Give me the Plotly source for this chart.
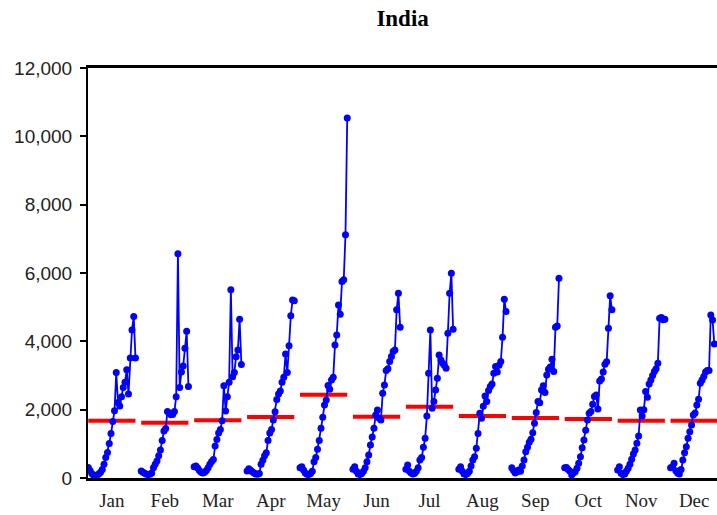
import plotly.graph_objects as go

# Monthly values by year (one list per calendar month, oldest year first)
months = ["Jan", "Feb", "Mar", "Apr", "May", "Jun",
          "Jul", "Aug", "Sep", "Oct", "Nov", "Dec"]

jan = [310, 220, 130, 80, 70, 90, 120, 170, 250, 400, 597, 743, 1007, 1300,
       1653, 1965, 3090, 2210, 2110, 2380, 2650, 2800, 3170, 2456, 3512, 4333,
       4724, 3512]
feb = [205, 170, 140, 108, 100, 110, 150, 303, 400, 499, 650, 821, 1100, 1379,
       1447, 1946, 1900, 1849, 1860, 1950, 2377, 6563, 2650, 3100, 3276, 3795,
       4294, 2680]
mar = [330, 350, 290, 220, 170, 150, 170, 220, 300, 400, 480, 545, 935, 1130,
       1320, 1420, 1672, 2700, 1960, 2380, 2800, 5510, 2960, 3090, 3550, 3750,
       4650, 3320]
apr = [205, 270, 230, 180, 150, 120, 110, 130, 400, 520, 650, 740, 1100, 1320,
       1420, 1700, 1940, 2300, 2455, 2550, 2800, 2950, 3630, 3090, 3870, 4750,
       5210, 5190]
may = [300, 331, 234, 150, 110, 100, 130, 200, 477, 600, 840, 1100, 1455, 1777,
       2138, 2285, 2704, 2600, 2870, 2950, 3896, 4189, 5067, 4795, 5750, 5800,
       7118, 10536]
jun = [254, 332, 200, 115, 100, 130, 200, 300, 478, 674, 967, 1200, 1455, 1845,
       1992, 1750, 1699, 2480, 2724, 3143, 3200, 3407, 3554, 3700, 3750, 4921,
       5409, 4413]
jul = [254, 381, 200, 150, 120, 140, 200, 300, 527, 600, 898, 1162, 1816, 3066,
       4335, 2040, 2236, 2578, 2919, 3603, 3456, 3358, 3300, 3212, 4237, 5409,
       5995, 4354]
aug = [254, 332, 200, 120, 100, 130, 200, 350, 527, 625, 869, 1300, 1894, 1750,
       2100, 2402, 2236, 2558, 2675, 2750, 3066, 3261, 3100, 3300, 3407, 4120,
       5233, 4872]
sep = [300, 220, 150, 185, 234, 200, 350, 527, 771, 900, 1050, 1133, 1328, 1601,
       1914, 2236, 2200, 2578, 2700, 2500, 3017, 3183, 3250, 3476, 3114, 4413,
       4450, 5848]
oct_ = [300, 310, 250, 200, 88, 150, 185, 283, 430, 625, 889, 1113, 1400, 1699,
        1894, 1950, 2158, 2382, 2431, 2021, 2841, 2900, 3100, 3329, 3400, 4384,
        5331, 4921]
nov = [234, 332, 137, 100, 120, 200, 283, 400, 547, 700, 820, 1016, 1230, 1992,
       1816, 2000, 2529, 2363, 2753, 2870, 3000, 3114, 3200, 3358, 4677, 4700,
       4630, 4650]
dec = [300, 332, 430, 215, 150, 120, 250, 527, 742, 918, 1162, 1357, 1552, 1845,
       1900, 2138, 2304, 2773, 2870, 2968, 3100, 3143, 3150, 4774, 4628, 3925]

# Mean of each month across the years
month_means = [1678, 1620, 1690, 1787, 2440, 1796, 2088, 1816, 1757, 1728,
               1678, 1678]

series = [jan, feb, mar, apr, may, jun, jul, aug, sep, oct_, nov, dec]

n_years = 28
group_width = 0.892          # share of each month slot used by its years
step = group_width / (n_years - 1)

fig = go.Figure()

# Red mean bars, one per month
for i, m in enumerate(month_means):
    fig.add_trace(go.Scatter(
        x=[i, i + group_width], y=[m, m], mode="lines",
        line=dict(color="#ff0000", width=4),
        hoverinfo="skip", showlegend=False))

# Blue year-by-year lines with markers, one per month
for i, vals in enumerate(series):
    xs = [i + j * step for j in range(len(vals))]
    fig.add_trace(go.Scatter(
        x=xs, y=vals, mode="lines+markers",
        line=dict(color="#0000ff", width=1.8),
        marker=dict(color="#0000ff", size=7),
        name=months[i], showlegend=False))

fig.update_layout(
    width=717, height=515,
    margin=dict(l=88, r=0, t=68, b=37),
    paper_bgcolor="white", plot_bgcolor="white",
    title=dict(text="<b>India</b>", x=0.5615, xanchor="center",
               y=1 - 18 / 515, yanchor="middle", yref="container",
               font=dict(family="Liberation Serif", size=23, color="black")),
    showlegend=False,
)

fig.update_xaxes(
    range=[-0.005, 11.877],
    tickmode="array",
    tickvals=[i + group_width / 2 for i in range(12)],
    ticktext=months,
    ticks="", showgrid=False, zeroline=False,
    showline=True, linecolor="black", linewidth=2.5, mirror=True,
    tickfont=dict(family="Liberation Serif", size=19, color="#222222"),
    ticklabelstandoff=3,
)

fig.update_yaxes(
    range=[0, 12000],
    tickmode="array",
    tickvals=[0, 2000, 4000, 6000, 8000, 10000, 12000],
    tickformat=",",
    ticks="outside", ticklen=6, tickwidth=1.5, tickcolor="black",
    showgrid=False, zeroline=False,
    showline=True, linecolor="black", linewidth=2,
    tickfont=dict(family="Liberation Sans", size=19, color="#222222"),
    ticklabelstandoff=4,
)

fig.write_html("out.html")
